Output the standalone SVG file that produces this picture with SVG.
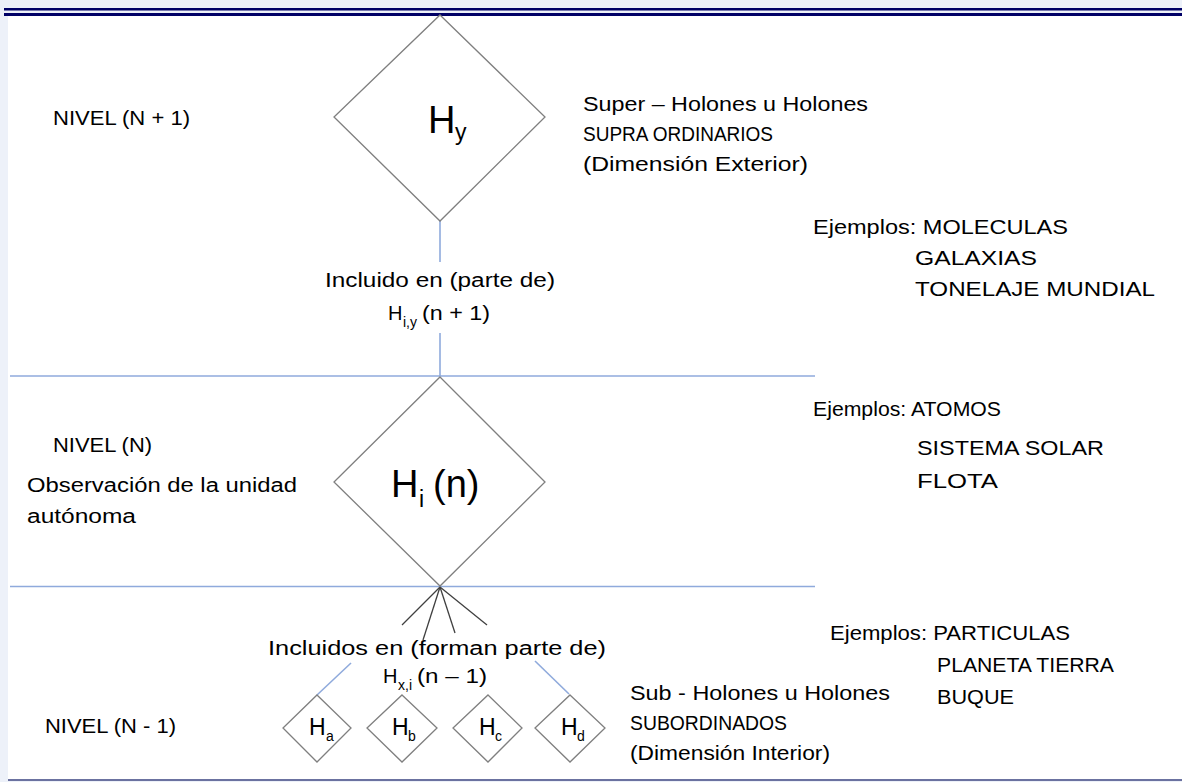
<svg xmlns="http://www.w3.org/2000/svg" width="1182" height="782" viewBox="0 0 1182 782">
<style>
.t{font-family:"Liberation Sans",Arial,sans-serif;font-size:20px;fill:#000}
.big{font-family:"Liberation Sans",Arial,sans-serif;font-size:38px;fill:#000}
.sm{font-family:"Liberation Sans",Arial,sans-serif;font-size:23px;fill:#000}
.sub{font-family:"Liberation Sans",Arial,sans-serif;font-size:14px;fill:#000}
.dia{fill:#fff;stroke:#7f7f7f;stroke-width:1.3}
.blue{stroke:#8faadc;stroke-width:1.6;fill:none}
.fan{stroke:#404040;stroke-width:1.3;fill:none}
</style>
<rect x="0" y="0" width="1182" height="782" fill="#edf1f9"/>
<rect x="8" y="16" width="1174" height="763" fill="#fff"/>
<rect x="4" y="8" width="1178" height="2.5" fill="#000066"/>
<rect x="4" y="13" width="1178" height="3" fill="#000066"/>
<rect x="8" y="779" width="1174" height="2" fill="#6b72a0"/>

<g id="connectors">
<line class="blue" x1="440" y1="221" x2="440" y2="262"/>
<line class="blue" x1="440" y1="333" x2="440" y2="376"/>
<line class="blue" x1="10" y1="376" x2="815" y2="376"/>
<line class="blue" x1="10" y1="586.5" x2="815" y2="586.5"/>
<line class="fan" x1="440" y1="587" x2="402" y2="625"/>
<line class="fan" x1="440" y1="587" x2="423" y2="640"/>
<line class="fan" x1="440" y1="587" x2="455" y2="633"/>
<line class="fan" x1="440" y1="587" x2="487" y2="625"/>
<line class="blue" x1="351" y1="663" x2="317" y2="695"/>
<line class="blue" x1="535" y1="661" x2="569" y2="694"/>
</g>

<g id="node-hy">
<polygon class="dia" points="440,15 545,117 440,221 334,117"/>
<text class="big" x="428" y="133">H</text>
<text class="sm" x="455" y="140" font-size="26">y</text>
</g>

<g id="node-hi">
<polygon class="dia" points="440,377 545,482 440,586 334,482"/>
<text class="big" x="391" y="497">H</text>
<text class="sm" x="419" y="507" font-size="22">i</text>
<text class="big" x="433" y="497">(n)</text>
</g>

<g id="node-ha">
<polygon class="dia" points="317,695 351,728 317,762 283,728"/>
<text class="sm" x="309" y="735">H</text>
<text class="sub" x="326" y="741">a</text>
</g>
<g id="node-hb">
<polygon class="dia" points="402,695 437,728 402,762 367,728"/>
<text class="sm" x="392" y="735">H</text>
<text class="sub" x="408" y="741">b</text>
</g>
<g id="node-hc">
<polygon class="dia" points="488,695 522,728 488,762 453,728"/>
<text class="sm" x="479" y="735">H</text>
<text class="sub" x="495" y="741">c</text>
</g>
<g id="node-hd">
<polygon class="dia" points="570,695 605,728 570,762 535,728"/>
<text class="sm" x="561" y="735">H</text>
<text class="sub" x="577" y="741">d</text>
</g>

<g id="labels">
<text class="t" x="53" y="125" textLength="137" lengthAdjust="spacingAndGlyphs">NIVEL (N + 1)</text>
<text class="t" x="53" y="452" textLength="99" lengthAdjust="spacingAndGlyphs">NIVEL (N)</text>
<text class="t" x="27" y="492" textLength="270" lengthAdjust="spacingAndGlyphs">Observación de la unidad</text>
<text class="t" x="27" y="523" textLength="109" lengthAdjust="spacingAndGlyphs">autónoma</text>
<text class="t" x="45" y="733" textLength="131" lengthAdjust="spacingAndGlyphs">NIVEL (N - 1)</text>

<text class="t" x="583" y="111" textLength="285" lengthAdjust="spacingAndGlyphs">Super – Holones u Holones</text>
<text class="t" x="583" y="141" textLength="190" lengthAdjust="spacingAndGlyphs">SUPRA ORDINARIOS</text>
<text class="t" x="583" y="171" textLength="225" lengthAdjust="spacingAndGlyphs">(Dimensión Exterior)</text>

<text class="t" x="813" y="234" textLength="255" lengthAdjust="spacingAndGlyphs">Ejemplos: MOLECULAS</text>
<text class="t" x="915" y="265" textLength="122" lengthAdjust="spacingAndGlyphs">GALAXIAS</text>
<text class="t" x="915" y="296" textLength="240" lengthAdjust="spacingAndGlyphs">TONELAJE MUNDIAL</text>

<text class="t" x="325" y="287" textLength="230" lengthAdjust="spacingAndGlyphs">Incluido en (parte de)</text>
<text class="t" x="388" y="320">H</text>
<text class="sub" x="403" y="327">i,y</text>
<text class="t" x="422" y="320" textLength="68" lengthAdjust="spacingAndGlyphs">(n + 1)</text>

<text class="t" x="813" y="416" textLength="188" lengthAdjust="spacingAndGlyphs">Ejemplos: ATOMOS</text>
<text class="t" x="917" y="455" textLength="187" lengthAdjust="spacingAndGlyphs">SISTEMA SOLAR</text>
<text class="t" x="917" y="488" textLength="81" lengthAdjust="spacingAndGlyphs">FLOTA</text>

<text class="t" x="830" y="640" textLength="240" lengthAdjust="spacingAndGlyphs">Ejemplos: PARTICULAS</text>
<text class="t" x="937" y="672" textLength="177" lengthAdjust="spacingAndGlyphs">PLANETA TIERRA</text>
<text class="t" x="937" y="704" textLength="77" lengthAdjust="spacingAndGlyphs">BUQUE</text>

<text class="t" x="268" y="655" textLength="338" lengthAdjust="spacingAndGlyphs">Incluidos en (forman parte de)</text>
<text class="t" x="383" y="683">H</text>
<text class="sub" x="398" y="690">x,i</text>
<text class="t" x="417" y="683" textLength="70" lengthAdjust="spacingAndGlyphs">(n – 1)</text>

<text class="t" x="630" y="700" textLength="260" lengthAdjust="spacingAndGlyphs">Sub - Holones u Holones</text>
<text class="t" x="630" y="730" textLength="157" lengthAdjust="spacingAndGlyphs">SUBORDINADOS</text>
<text class="t" x="630" y="760" textLength="200" lengthAdjust="spacingAndGlyphs">(Dimensión Interior)</text>
</g>
</svg>
